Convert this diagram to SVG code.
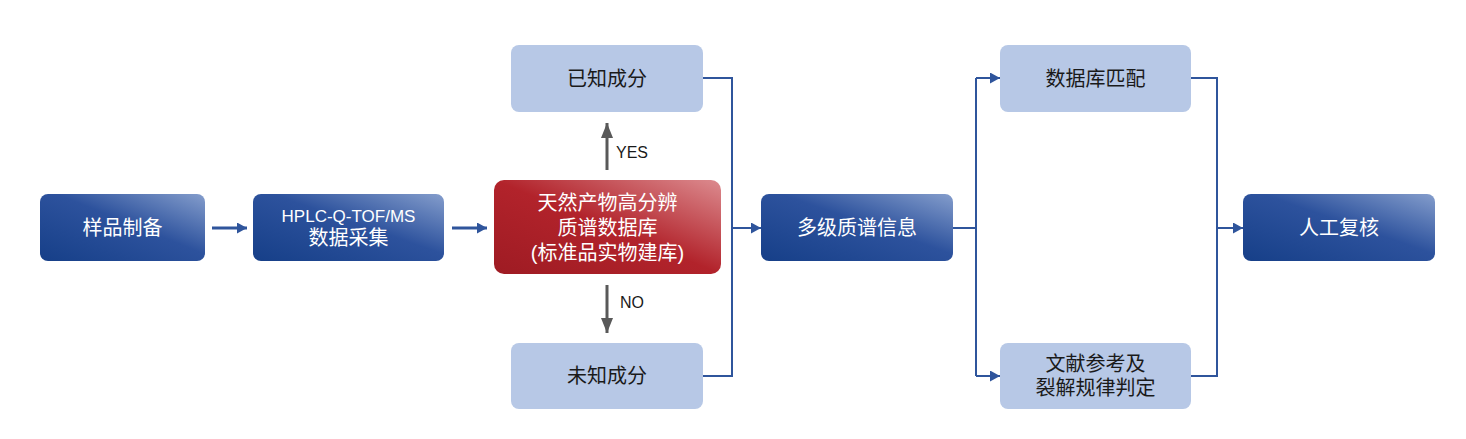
<svg xmlns="http://www.w3.org/2000/svg" width="1466" height="439" viewBox="0 0 1466 439">
<defs>
<linearGradient id="gBlue" x1="0" y1="1" x2="1" y2="0">
<stop offset="0" stop-color="#163f88"/>
<stop offset="0.55" stop-color="#2d529d"/>
<stop offset="1" stop-color="#849dcc"/>
</linearGradient>
<linearGradient id="gRed" x1="0" y1="1" x2="1" y2="0">
<stop offset="0" stop-color="#9e1b23"/>
<stop offset="0.5" stop-color="#b2232b"/>
<stop offset="1" stop-color="#dc8b8f"/>
</linearGradient>
<marker id="aBlue" viewBox="0 0 10 11" refX="10" refY="5.5" markerWidth="10" markerHeight="11" markerUnits="userSpaceOnUse" orient="auto">
<path d="M0,0 L10,5.5 L0,11 Z" fill="#2f559c"/>
</marker>
<marker id="aGray" viewBox="0 0 15 12" refX="15" refY="6" markerWidth="15" markerHeight="12" markerUnits="userSpaceOnUse" orient="auto">
<path d="M0,0 L15,6 L0,12 Z" fill="#595959"/>
</marker>
<style>
.dark{fill:url(#gBlue);}
.red{fill:url(#gRed);}
.light{fill:#b7c8e6;}
.tw{fill:#ffffff;font-family:"Liberation Sans","Noto Sans CJK SC",sans-serif;font-size:20px;text-anchor:middle;}
.tb{fill:#1a1a1a;font-family:"Liberation Sans","Noto Sans CJK SC",sans-serif;font-size:20px;text-anchor:middle;}
.lbl{fill:#1a1a1a;font-family:"Liberation Sans",sans-serif;font-size:16px;}
.conn{fill:none;stroke:#2f559c;stroke-width:2;}
.thick{fill:none;stroke:#2f559c;stroke-width:3;}
.gray{fill:none;stroke:#595959;stroke-width:3;}
</style>
</defs>
<g id="connectors">
<path class="thick" d="M212,228 H247" marker-end="url(#aBlue)"/>
<path class="thick" d="M452,228 H487" marker-end="url(#aBlue)"/>
<path class="gray" d="M607,170 V123" marker-end="url(#aGray)"/>
<path class="gray" d="M607,285 V333" marker-end="url(#aGray)"/>
<path class="conn" d="M703,78 H732 V376 H703"/>
<path class="conn" d="M732,228 H761" marker-end="url(#aBlue)"/>
<path class="conn" d="M953,228 H976"/>
<path class="conn" d="M976,78 V376"/>
<path class="conn" d="M976,78 H1000" marker-end="url(#aBlue)"/>
<path class="conn" d="M976,376 H1000" marker-end="url(#aBlue)"/>
<path class="conn" d="M1191,78 H1217 V376 H1191"/>
<path class="conn" d="M1217,228 H1243" marker-end="url(#aBlue)"/>
<text class="lbl" x="616" y="158">YES</text>
<text class="lbl" x="620" y="308">NO</text>
</g>
<g id="n1">
<rect class="dark" x="40" y="194" width="165" height="67" rx="8"/>
<text class="tw" x="122.5" y="235">样品制备</text>
</g>
<g id="n2">
<rect class="dark" x="253" y="194" width="191" height="67" rx="8"/>
<text class="tw" x="348.5" y="222" style="font-size:17px">HPLC-Q-TOF/MS</text>
<text class="tw" x="348.5" y="245">数据采集</text>
</g>
<g id="n3">
<rect class="red" x="494" y="180" width="227" height="94" rx="10"/>
<text class="tw" x="607.5" y="210">天然产物高分辨</text>
<text class="tw" x="607.5" y="235">质谱数据库</text>
<text class="tw" x="607.5" y="260">(标准品实物建库)</text>
</g>
<g id="n4">
<rect class="light" x="511" y="45" width="192" height="67" rx="8"/>
<text class="tb" x="607" y="85.5">已知成分</text>
</g>
<g id="n5">
<rect class="light" x="511" y="343" width="192" height="66" rx="8"/>
<text class="tb" x="607" y="383">未知成分</text>
</g>
<g id="n6">
<rect class="dark" x="761" y="194" width="192" height="67" rx="8"/>
<text class="tw" x="857" y="235">多级质谱信息</text>
</g>
<g id="n7">
<rect class="light" x="1000" y="45" width="191" height="67" rx="8"/>
<text class="tb" x="1095.5" y="85.5">数据库匹配</text>
</g>
<g id="n8">
<rect class="light" x="1000" y="343" width="191" height="66" rx="8"/>
<text class="tb" x="1095.5" y="371">文献参考及</text>
<text class="tb" x="1095.5" y="395">裂解规律判定</text>
</g>
<g id="n9">
<rect class="dark" x="1243" y="194" width="192" height="67" rx="8"/>
<text class="tw" x="1339" y="235">人工复核</text>
</g>
</svg>
